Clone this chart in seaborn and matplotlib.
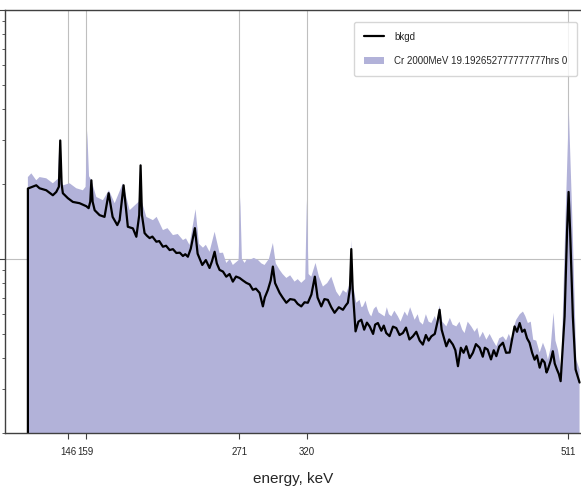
import matplotlib
matplotlib.use("Agg")
import matplotlib.pyplot as plt
import seaborn as sns

# ============ spectrum readings (keV, counts) ============
bkgd_energy = [116.7, 116.7, 122.8, 125.2, 130.1, 134.9, 137.4, 139.3, 140.3, 141.3,
               142.2, 145.9, 149.5, 154.4, 159.3, 161.0, 162.2, 163.0, 163.9, 165.4,
               169.0, 172.6, 175.6, 178.5, 181.9, 183.6, 186.5, 189.6, 193.3, 195.8,
               197.9, 198.9, 199.9, 201.8, 203.5, 205.5, 207.5, 210.4, 212.5, 215.2,
               217.5, 220.1, 222.5, 225.0, 227.5, 229.8, 231.5, 233.4, 235.5, 238.5,
               240.5, 243.9, 246.5, 249.2, 251.0, 252.9, 254.5, 256.5, 259.0, 261.4,
               263.8, 266.2, 268.5, 271.1, 273.5, 276.0, 278.5, 280.8, 283.0, 285.7,
               288.1, 289.5, 291.8, 293.8, 295.4, 297.0, 300.3, 302.5, 305.2, 308.0,
               311.2, 313.5, 316.1, 318.5, 320.9, 323.5, 326.0, 328.0, 330.7, 333.0,
               335.5, 338.0, 340.4, 343.5, 346.5, 348.5, 350.1, 351.6, 352.6, 353.6,
               355.7, 357.8, 359.9, 362.0, 364.0, 366.0, 368.5, 370.0, 372.0, 374.5,
               376.3, 378.1, 380.5, 383.0, 385.4, 387.8, 390.2, 392.5, 395.0, 397.5,
               400.0, 402.5, 404.8, 407.0, 409.0, 411.0, 413.5, 415.5, 417.0, 418.5,
               421.9, 424.0, 426.7, 428.5, 430.4, 432.5, 434.5, 436.5, 439.0, 441.3,
               443.5, 446.2, 448.5, 450.0, 452.0, 454.5, 456.5, 458.4, 460.5, 463.2,
               465.5, 468.1, 470.0, 471.7, 473.5, 475.4, 477.2, 479.0, 480.8, 482.6,
               484.5, 486.3, 488.0, 490.0, 491.8, 493.6, 495.0, 496.0, 498.0, 499.6,
               501.0, 502.6, 504.0, 505.3, 508.2, 510.0, 511.1, 512.2, 514.2, 516.2,
               519.1]
bkgd_counts = [0, 1918, 1977, 1923, 1888, 1803, 1859, 1950, 2992, 2000,
               1837, 1754, 1695, 1675, 1629, 1600, 1700, 2070, 1700, 1570,
               1500, 1476, 1837, 1476, 1368, 1432, 1977, 1347, 1327, 1228,
               1500, 2377, 1500, 1271, 1240, 1213, 1230, 1173, 1180, 1120,
               1130, 1086, 1095, 1057, 1060, 1028, 1045, 1021, 1100, 1330,
               1050, 946, 990, 920, 980, 1069, 960, 904, 890, 849,
               870, 811, 850, 839, 820, 802, 790, 752, 760, 731,
               645, 700, 752, 820, 932, 800, 731, 700, 667, 690,
               685, 660, 645, 670, 667, 720, 849, 700, 645, 690,
               685, 640, 608, 640, 625, 650, 667, 760, 1096, 760,
               512, 560, 570, 520, 555, 536, 500, 545, 553, 515,
               540, 504, 490, 535, 528, 495, 504, 530, 475, 489,
               510, 470, 453, 495, 470, 489, 500, 560, 625, 520,
               446, 475, 453, 430, 371, 440, 420, 446, 400, 420,
               455, 440, 405, 440, 433, 395, 430, 407, 445, 461,
               420, 421, 480, 536, 510, 553, 510, 520, 480, 461,
               420, 394, 410, 366, 395, 384, 350, 360, 390, 426,
               380, 360, 345, 323, 588, 1300, 1859, 1300, 588, 360,
               319]

cr_energy = [116.7, 119.2, 122.8, 125.2, 130.1, 134.9, 138.6, 139.8, 141.0, 142.5,
             147.1, 152.0, 156.8, 158.8, 160.0, 161.3, 163.0, 166.6, 171.4, 175.8,
             180.0, 186.0, 190.9, 197.6, 198.7, 199.8, 203.1, 207.9, 210.6, 215.2,
             218.5, 222.5, 226.0, 229.8, 232.0, 234.6, 239.0, 241.5, 244.4, 246.5,
             249.2, 252.9, 256.5, 259.0, 261.4, 264.0, 266.2, 270.4, 271.6, 272.8,
             274.8, 276.5, 278.4, 281.5, 284.5, 287.0, 289.3, 292.5, 295.4, 297.5,
             300.3, 302.5, 305.2, 308.0, 311.2, 313.5, 316.1, 319.0, 320.2, 321.4,
             323.4, 326.5, 329.0, 331.9, 335.0, 338.0, 341.6, 344.1, 346.5, 349.0,
             351.6, 352.6, 353.6, 356.2, 358.6, 360.0, 361.1, 363.0, 364.7, 366.0,
             367.2, 369.0, 370.8, 372.5, 374.5, 376.9, 378.5, 380.0, 381.8, 384.0,
             386.6, 388.5, 391.5, 393.5, 395.5, 398.8, 401.0, 402.5, 404.8, 407.0,
             409.0, 411.0, 413.5, 415.0, 417.0, 419.0, 421.9, 424.5, 426.5, 429.2,
             431.5, 433.5, 435.2, 437.5, 440.1, 442.5, 444.5, 446.2, 448.5, 451.1,
             453.5, 456.0, 458.4, 460.5, 463.2, 465.5, 467.5, 469.3, 471.0, 472.9,
             475.5, 477.8, 479.5, 481.4, 483.5, 485.3, 487.5, 490.0, 492.4, 494.5,
             496.0, 498.0, 500.1, 501.5, 503.3, 505.8, 508.9, 511.3, 513.8, 516.7,
             519.1]
cr_counts = [2133, 2208, 2070, 2133, 2109, 2014, 2100, 3048, 2100, 1977,
             2014, 1923, 1888, 1950, 3281, 2150, 2070, 1775, 1722, 1888,
             1675, 2014, 1570, 1700, 2421, 1700, 1476, 1432, 1476, 1306,
             1330, 1247, 1260, 1191, 1210, 1138, 1585, 1150, 1110, 1140,
             1069, 1286, 1057, 1060, 964, 1000, 946, 990, 1775, 1000,
             964, 1000, 991, 1010, 991, 960, 946, 1000, 1159, 960,
             904, 870, 839, 860, 811, 830, 802, 830, 1722, 870,
             849, 964, 850, 775, 800, 849, 740, 707, 750, 731,
             800, 1191, 800, 667, 685, 640, 645, 680, 625, 600,
             588, 630, 645, 610, 600, 588, 640, 600, 588, 620,
             588, 560, 615, 590, 640, 570, 600, 560, 545, 600,
             560, 553, 590, 560, 650, 560, 536, 580, 545, 536,
             560, 520, 504, 560, 536, 510, 530, 482, 510, 474,
             500, 470, 446, 480, 489, 470, 500, 474, 530, 570,
             600, 615, 590, 553, 560, 474, 470, 421, 461, 430,
             394, 440, 608, 470, 433, 360, 1476, 3945, 1476, 394,
             360]

tick_energies = [146, 159, 271, 320, 511]
tick_labels = [str(t) for t in tick_energies]
bkgd_label = "bkgd"
cr_label = "Cr 2000MeV 19.192652777777777hrs 0"

sns.set_style("ticks")
plt.rcParams["font.family"] = ["Liberation Sans", "DejaVu Sans"]

fig = plt.figure(figsize=(5.81, 4.95), dpi=100)
ax = fig.add_axes([5 / 581, 62 / 495, 589.5 / 581, 423 / 495])

ax.fill_between(cr_energy, cr_counts, 0, color="#b2b2d9", lw=0, label=cr_label, zorder=1)
sns.lineplot(x=bkgd_energy, y=bkgd_counts, ax=ax, color="black", lw=1.6,
             sort=False, estimator=None, label=bkgd_label, zorder=2)

ax.set_yscale("log")
ax.set_xlim(100, 530)
ax.set_ylim(200, 10000)

ax.set_xticks(tick_energies)
ax.set_xticklabels(tick_labels, fontsize=7)
ax.tick_params(axis="x", length=4.5, pad=5.5, color="0.25")
ax.tick_params(axis="y", which="both", labelleft=False, color="0.25")
ax.tick_params(axis="y", which="major", length=4)
ax.tick_params(axis="y", which="minor", length=2.5)
ax.grid(True, which="major", color="0.75", lw=0.8, zorder=0.5)

for side in ["top", "left", "bottom", "right"]:
    ax.spines[side].set_color("0.25")
    ax.spines[side].set_linewidth(1.0)

ax.set_xlabel("energy, keV", fontsize=11)
ax.xaxis.set_label_coords(0.4886, -0.092)
ax.set_ylabel("")

# bkgd line first, then the Cr fill
handles, labels = ax.get_legend_handles_labels()
order = [labels.index(bkgd_label), labels.index(cr_label)]
ax.legend([handles[i] for i in order], [labels[i] for i in order],
          loc="upper right", bbox_to_anchor=(0.9703, 0.9716), borderaxespad=0,
          fontsize=7, labelspacing=1.45, borderpad=1.0, handlelength=2.1,
          handletextpad=1.0, frameon=True, framealpha=0.8, edgecolor="0.8", fancybox=True)

fig.savefig("out.png", dpi=100)
